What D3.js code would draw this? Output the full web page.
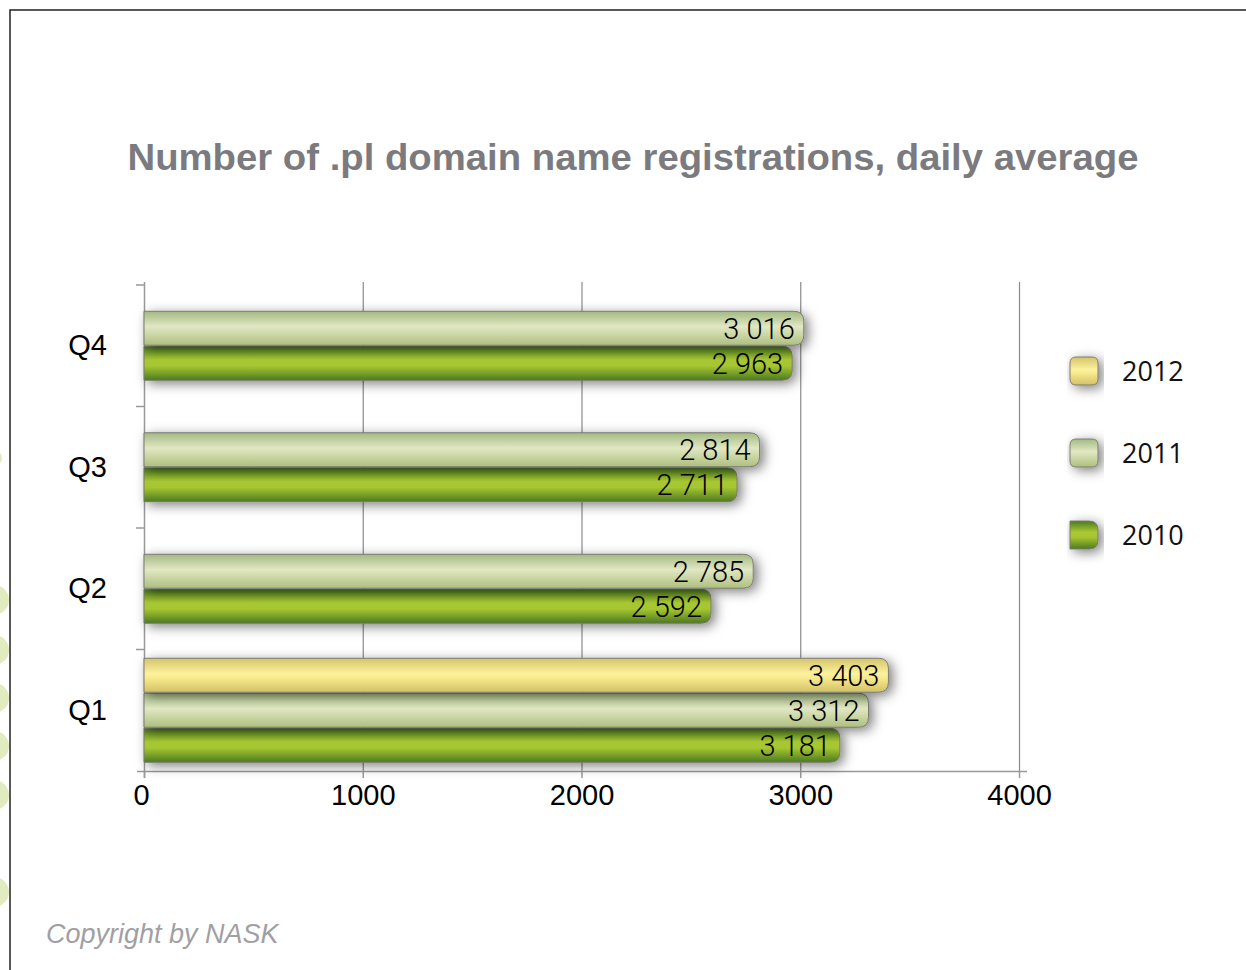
<!DOCTYPE html>
<html>
<head>
<meta charset="utf-8">
<script src="https://cdn.jsdelivr.net/npm/d3@7"></script>
<style>
  body { margin: 0; background: #fff; }
  svg { display: block; }
</style>
</head>
<body>
<svg id="chart"></svg>
<script>
// data
const quarters = ['Q4', 'Q3', 'Q2', 'Q1'];
const years = ['2012', '2011', '2010'];
const values2012 = { Q1: 3403 };
const values2011 = { Q1: 3312, Q2: 2785, Q3: 2814, Q4: 3016 };
const values2010 = { Q1: 3181, Q2: 2592, Q3: 2711, Q4: 2963 };
const xTicks = [0, 1000, 2000, 3000, 4000];

const seriesByYear = { '2012': values2012, '2011': values2011, '2010': values2010 };

let width = 1246;
let height = 970;
let plotLeft = 144, plotRight = 1019, plotTop = 282, plotBottom = 771;
let barH = 34, barGap = 1;

const gradients = {
  '2012': [['0%', '#d4c46a'], ['45%', '#fdf19c'], ['60%', '#f6e88c'], ['100%', '#d2c064']],
  '2011': [['0%', '#a3b982'], ['45%', '#e1e7c3'], ['60%', '#d3ddb0'], ['100%', '#aebf7e']],
  '2010': [['0%', '#4a7a20'], ['40%', '#a9c832'], ['58%', '#a6c630'], ['100%', '#4c7a22']]
};

let svg = d3.select('#chart')
  .attr('width', width)
  .attr('height', height)
  .style('font-family', 'Roboto, "Liberation Sans", sans-serif');

let defs = svg.append('defs');

years.forEach(yr => {
  let g = defs.append('linearGradient')
    .attr('id', 'grad' + yr)
    .attr('x1', 0).attr('y1', 0).attr('x2', 0).attr('y2', 1);
  gradients[yr].forEach(s => g.append('stop').attr('offset', s[0]).attr('stop-color', s[1]));
});

let shadow = defs.append('filter')
  .attr('id', 'shadow')
  .attr('x', '-10%').attr('y', '-80%').attr('width', '130%').attr('height', '280%');
shadow.append('feDropShadow')
  .attr('dx', 4).attr('dy', 3)
  .attr('stdDeviation', 6)
  .attr('flood-color', '#000')
  .attr('flood-opacity', 0.5);

defs.append('clipPath').attr('id', 'leftEdge')
  .append('rect').attr('x', 0).attr('y', 0).attr('width', 10).attr('height', height);

// pale decoration peeking in from the left edge
svg.append('g')
  .attr('clip-path', 'url(#leftEdge)')
  .selectAll('circle')
  .data([458, 600, 650, 698, 746, 795, 892])
  .enter()
  .append('circle')
  .attr('cx', -6)
  .attr('cy', d => d)
  .attr('r', d => d === 458 ? 8 : 15)
  .attr('fill', '#e2ebbf');

// frame
svg.append('path')
  .attr('d', `M10,${height} L10,10 L${width},10`)
  .attr('fill', 'none')
  .attr('stroke', '#222')
  .attr('stroke-width', 1.5);

svg.append('text')
  .attr('x', 633)
  .attr('y', 170)
  .attr('text-anchor', 'middle')
  .attr('textLength', 1011)
  .attr('lengthAdjust', 'spacingAndGlyphs')
  .style('font-family', '"Liberation Sans", Arial, sans-serif')
  .style('font-weight', 'bold')
  .style('font-size', '37px')
  .style('fill', '#7b7b7f')
  .text('Number of .pl domain name registrations, daily average');

let xScale = d3.scaleLinear()
  .domain([0, 4000])
  .range([plotLeft, plotRight]);

let yScale = d3.scaleBand()
  .domain(quarters)
  .range([285, plotBottom]);

// vertical grid lines
svg.append('g')
  .attr('transform', `translate(0,${plotBottom})`)
  .call(d3.axisBottom(xScale).tickValues(xTicks.slice(1)).tickSize(-(plotBottom - plotTop)).tickFormat(''))
  .call(g => g.select('.domain').remove())
  .call(g => g.selectAll('line').attr('stroke', '#8a8a8a').attr('stroke-width', 1.2));

// x axis
let xAxis = svg.append('g')
  .attr('transform', `translate(0,${plotBottom})`)
  .call(d3.axisBottom(xScale).tickValues(xTicks).tickSize(7).tickPadding(6).tickFormat(d3.format('d')));
xAxis.select('.domain').attr('d', `M${plotLeft - 7},0.5H${plotRight + 8}`).attr('stroke', '#999').attr('stroke-width', 1.5);
xAxis.selectAll('line').attr('stroke', '#999').attr('stroke-width', 1.5);
xAxis.selectAll('text')
  .attr('dy', '0.72em')
  .style('font-size', '29px')
  .style('font-weight', 300)
  .style('fill', '#000');
xAxis.selectAll('.tick').filter(d => d === 0).select('text').attr('dx', -3);

// y axis with quarter labels
let yAxis = svg.append('g')
  .attr('transform', `translate(${plotLeft},0)`)
  .call(d3.axisLeft(yScale).tickSize(0).tickPadding(37));
yAxis.select('.domain').attr('d', `M0.5,${plotTop}V${plotBottom + 7}`).attr('stroke', '#999').attr('stroke-width', 1.5);
yAxis.selectAll('text')
  .style('font-size', '29px')
  .style('font-weight', 300)
  .style('fill', '#000');

// ticks between the quarter bands
svg.append('g')
  .selectAll('line')
  .data(quarters.map(q => yScale(q)))
  .enter()
  .append('line')
  .attr('x1', plotLeft - 8).attr('x2', plotLeft)
  .attr('y1', d => d).attr('y2', d => d)
  .attr('stroke', '#999')
  .attr('stroke-width', 1.5);

// bars
let rows = [];
quarters.forEach(q => {
  let present = years.filter(yr => seriesByYear[yr][q] != null);
  let groupH = present.length * barH + (present.length - 1) * barGap;
  let y0 = yScale(q) + yScale.bandwidth() / 2 - groupH / 2;
  present.forEach((yr, i) => {
    rows.push({ quarter: q, year: yr, value: seriesByYear[yr][q], y: y0 + i * (barH + barGap) });
  });
});

function barPath(x0, x1, y, h, r) {
  return `M${x0},${y}H${x1 - r}Q${x1},${y} ${x1},${y + r}V${y + h - r}Q${x1},${y + h} ${x1 - r},${y + h}H${x0}Z`;
}

// draw bottom rows first so upper bars sit over their shadows
let barG = svg.append('g');
barG.selectAll('path')
  .data(rows.slice().reverse())
  .enter()
  .append('path')
  .attr('d', d => barPath(xScale(0), xScale(d.value), d.y, barH, 10))
  .attr('fill', d => `url(#grad${d.year})`)
  .attr('stroke', '#7a7a72')
  .attr('stroke-width', 1)
  .attr('filter', 'url(#shadow)');

svg.append('g')
  .selectAll('text')
  .data(rows)
  .enter()
  .append('text')
  .attr('x', d => xScale(d.value) - 9)
  .attr('y', d => d.y + barH / 2)
  .attr('dy', '0.36em')
  .attr('text-anchor', 'end')
  .style('font-size', '29px')
  .style('font-weight', 300)
  .style('fill', '#000')
  .text(d => d3.format(',')(d.value).replace(',', ' '));

// legend
let legend = svg.selectAll('.legend')
  .data(years)
  .enter()
  .append('g')
  .attr('class', 'legend')
  .attr('transform', (d, i) => `translate(1070,${357 + i * 82})`);

legend.append('path')
  .attr('d', d => d === '2010'
    ? barPath(0, 28, 0, 28, 9)
    : 'M6,0H22Q28,0 28,6V22Q28,28 22,28H6Q0,28 0,22V6Q0,0 6,0Z')
  .attr('fill', d => `url(#grad${d})`)
  .attr('stroke', '#7a7a72')
  .attr('stroke-width', 1)
  .attr('filter', 'url(#shadow)');

legend.append('text')
  .attr('x', 52)
  .attr('y', 14)
  .attr('dy', '0.38em')
  .style('font-family', '"Open Sans", sans-serif')
  .style('font-size', '27px')
  .style('fill', '#111')
  .text(d => d);

svg.append('text')
  .attr('x', 46)
  .attr('y', 943)
  .style('font-family', '"Liberation Sans", Arial, sans-serif')
  .style('font-style', 'italic')
  .style('font-size', '27px')
  .style('fill', '#a0a0a4')
  .text('Copyright by NASK');
</script>
</body>
</html>
